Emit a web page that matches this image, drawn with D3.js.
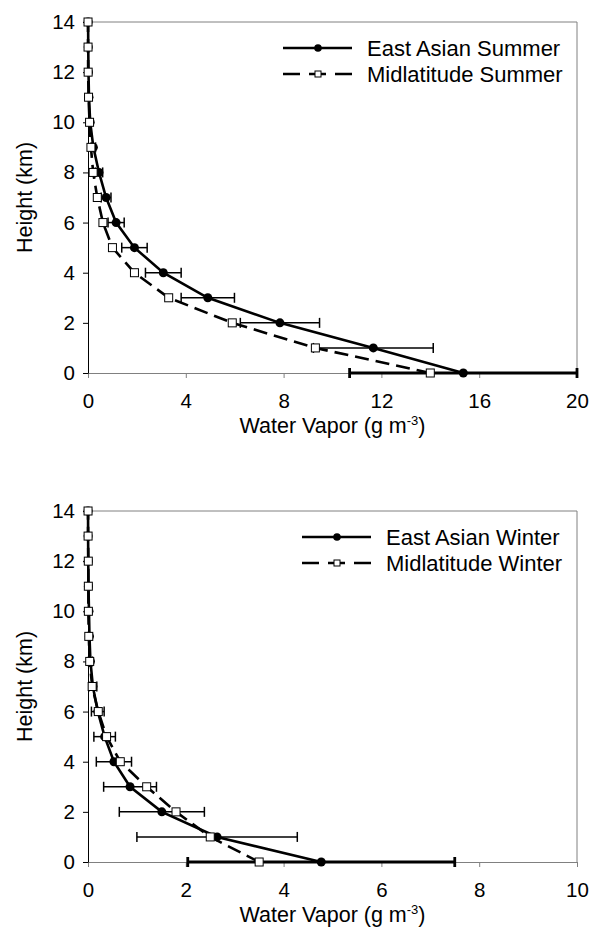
<!DOCTYPE html>
<html>
<head>
<meta charset="utf-8">
<script src="https://cdn.jsdelivr.net/npm/d3@7"></script>
<style>
  body { margin: 0; background: #fff; }
  svg { display: block; font-family: "Liberation Sans", Arial, sans-serif; }
</style>
</head>
<body>
<svg id="chart" width="590" height="927"></svg>
<script>
// heights (km) shared by every profile
const heights = [0, 1, 2, 3, 4, 5, 6, 7, 8, 9, 10, 11, 12, 13, 14]

// summer profiles, water vapor density (g m-3)
const eaSummer    = [15.35, 11.67, 7.85, 4.9, 3.08, 1.9, 1.15, 0.74, 0.45, 0.22, 0.09, 0.04, 0.02, 0.01, 0.005]
const eaSummerErr = [4.65, 2.45, 1.62, 1.09, 0.73, 0.52, 0.33, 0.2, 0.15, 0.09, 0, 0, 0, 0, 0]
const mlSummer    = [14.0, 9.3, 5.9, 3.3, 1.9, 1.0, 0.61, 0.38, 0.21, 0.12, 0.064, 0.022, 0.006, 0.0018, 0.001]

// winter profiles
const eaWinter    = [4.77, 2.64, 1.51, 0.86, 0.53, 0.34, 0.2, 0.1, 0.05, 0.03, 0.02, 0.01, 0.005, 0.002, 0.001]
const eaWinterErr = [2.73, 1.64, 0.87, 0.54, 0.36, 0.22, 0.13, 0.08, 0.04, 0, 0, 0, 0, 0, 0]
const mlWinter    = [3.5, 2.5, 1.8, 1.2, 0.66, 0.38, 0.21, 0.085, 0.035, 0.016, 0.0075, 0.0069, 0.006, 0.0018, 0.001]

const summerXTicks = [0, 4, 8, 12, 16, 20]
const winterXTicks = [0, 2, 4, 6, 8, 10]
const yTicks = [0, 2, 4, 6, 8, 10, 12, 14]

const summerNames = ["East Asian Summer", "Midlatitude Summer"]
const winterNames = ["East Asian Winter", "Midlatitude Winter"]

const svg = d3.select("#chart")
const gray = "#808080"

function drawPanel(opt) {
  const left = 88, right = 577
  const x = d3.scaleLinear().domain([0, opt.xMax]).range([left, right])
  const y = d3.scaleLinear().domain([0, 14]).range([opt.bottom, opt.top])
  const g = svg.append("g")

  // frame top + right (gray)
  g.append("path")
    .attr("d", `M${left},${opt.top}H${right}V${opt.bottom}`)
    .attr("fill", "none").attr("stroke", gray).attr("stroke-width", 1)

  // x axis
  const xa = g.append("g")
    .attr("transform", `translate(0,${opt.bottom})`)
    .call(d3.axisBottom(x).tickValues(opt.xTicks).tickSize(5).tickPadding(15).tickSizeOuter(0))
  xa.select(".domain").attr("stroke", gray)
  xa.selectAll(".tick line").attr("stroke", gray)
  xa.selectAll("text").attr("font-size", 20.5).attr("fill", "#000")
    .attr("font-family", "Liberation Sans, Arial, sans-serif")

  // y axis
  const ya = g.append("g")
    .attr("transform", `translate(${left},0)`)
    .call(d3.axisLeft(y).tickValues(yTicks).tickSize(5).tickPadding(8).tickSizeOuter(0))
  ya.select(".domain").attr("stroke", "#000")
  ya.selectAll("text").attr("font-size", 20.5).attr("fill", "#000")
    .attr("font-family", "Liberation Sans, Arial, sans-serif")

  // titles
  const xt = g.append("text")
    .attr("x", (left + right) / 2).attr("y", opt.bottom + 60)
    .attr("text-anchor", "middle").attr("font-size", 21.5)
  xt.append("tspan").text("Water Vapor (g m")
  xt.append("tspan").text("-3").attr("font-size", 13).attr("dy", -8)
  xt.append("tspan").text(")").attr("dy", 8)

  g.append("text")
    .attr("transform", `translate(32,${(opt.top + opt.bottom) / 2}) rotate(-90)`)
    .attr("text-anchor", "middle").attr("font-size", 21.5)
    .text("Height (km)")

  const clip = v => Math.max(0, Math.min(opt.xMax, v))
  const ea = heights.map((h, i) => ({ h, v: opt.ea[i], e: opt.eaErr[i] }))
  const ml = heights.map((h, i) => ({ h, v: opt.ml[i] }))
  const line = d3.line().x(d => x(d.v)).y(d => y(d.h))

  // East Asian: line, error bars, markers
  g.append("path").datum(ea).attr("d", line)
    .attr("fill", "none").attr("stroke", "#000").attr("stroke-width", 2.6)

  const eb = g.selectAll(".err").data(ea.filter(d => d.e > 0)).join("g")
    .attr("stroke", "#000").attr("stroke-width", d => d.h === 0 ? 2.8 : 1.5)
  eb.append("line")
    .attr("x1", d => x(clip(d.v - d.e))).attr("x2", d => x(clip(d.v + d.e)))
    .attr("y1", d => y(d.h)).attr("y2", d => y(d.h))
  eb.append("line")
    .attr("x1", d => x(clip(d.v - d.e))).attr("x2", d => x(clip(d.v - d.e)))
    .attr("y1", d => y(d.h) - 5).attr("y2", d => y(d.h) + 5)
  eb.append("line")
    .attr("x1", d => x(clip(d.v + d.e))).attr("x2", d => x(clip(d.v + d.e)))
    .attr("y1", d => y(d.h) - 5).attr("y2", d => y(d.h) + 5)

  g.selectAll(".ea").data(ea).join("circle")
    .attr("cx", d => x(d.v)).attr("cy", d => y(d.h)).attr("r", 4.5).attr("fill", "#000")

  // Midlatitude: dashed line + open squares
  g.append("path").datum(ml).attr("d", line)
    .attr("fill", "none").attr("stroke", "#000").attr("stroke-width", 2.6)
    .attr("stroke-dasharray", "14,7")
  g.selectAll(".ml").data(ml).join("rect")
    .attr("x", d => x(d.v) - 4).attr("y", d => y(d.h) - 4)
    .attr("width", 8).attr("height", 8)
    .attr("fill", "#fff").attr("stroke", "#000").attr("stroke-width", 1)

  // legend
  const lg = g.append("g").attr("transform", `translate(${opt.legendX},${opt.top + 26})`)
  lg.append("line").attr("x1", 0).attr("x2", 69).attr("y1", 0).attr("y2", 0)
    .attr("stroke", "#000").attr("stroke-width", 2.6)
  lg.append("circle").attr("cx", 35).attr("cy", 0).attr("r", 3.8)
  lg.append("text").attr("x", 84).attr("y", 8).attr("font-size", 22).text(opt.names[0])
  lg.append("line").attr("x1", 0).attr("x2", 69).attr("y1", 26).attr("y2", 26)
    .attr("stroke", "#000").attr("stroke-width", 2.6).attr("stroke-dasharray", "17,9")
  lg.append("rect").attr("x", 32).attr("y", 23).attr("width", 6).attr("height", 6)
    .attr("fill", "#fff").attr("stroke", "#000").attr("stroke-width", 1)
  lg.append("text").attr("x", 84).attr("y", 34).attr("font-size", 22).text(opt.names[1])
}

drawPanel({ top: 22, bottom: 373, xMax: 20, xTicks: summerXTicks,
  ea: eaSummer, eaErr: eaSummerErr, ml: mlSummer, names: summerNames, legendX: 283 })
drawPanel({ top: 511, bottom: 862, xMax: 10, xTicks: winterXTicks,
  ea: eaWinter, eaErr: eaWinterErr, ml: mlWinter, names: winterNames, legendX: 302 })
</script>
</body>
</html>
